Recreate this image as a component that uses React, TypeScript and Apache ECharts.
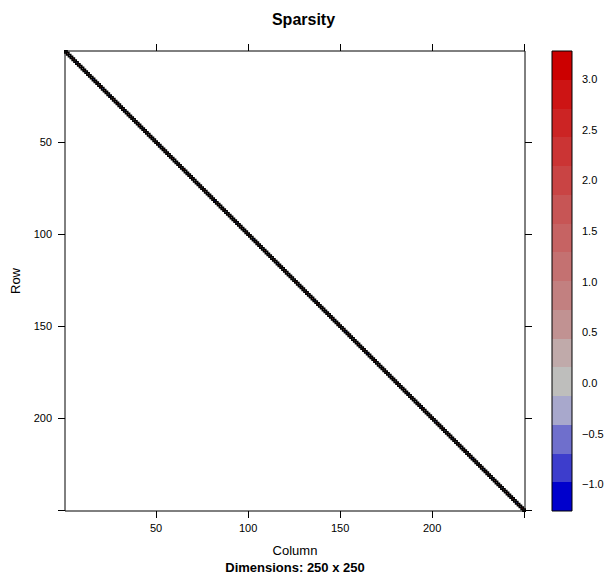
import React, { useEffect, useRef } from "react";
import * as echarts from "echarts";

const N = 250;
const categories = Array.from({ length: N }, (_, i) => String(i + 1));
const axisTickValues = [50, 100, 150, 200, 250];
const axisLabelValues = [50, 100, 150, 200];

// diagonal entries of the 250 x 250 sparse matrix (estimated; hidden under cell borders)
const diagValues = [
  0.42, 1.13, -0.35, 0.88, 2.01, 0.17, -0.62, 1.45, 0.73, 0.29,
  1.92, -0.18, 0.56, 1.27, 0.04, -0.91, 0.67, 1.58, 0.33, 2.44,
  -0.47, 0.95, 1.71, 0.12, -1.265, 0.81, 1.36, 0.48, 2.73, -0.24,
  0.61, 1.05, -0.73, 0.38, 1.84, 0.22, 0.97, -0.11, 1.49, 0.66,
  2.17, 0.09, -0.55, 1.21, 0.77, 0.35, 1.63, -0.38, 0.52, 0.91,
  1.34, -0.86, 0.27, 2.29, 0.59, 1.02, -0.07, 0.84, 1.77, 0.13,
  -0.29, 0.71, 1.18, 0.46, 3.279, 0.25, -0.66, 1.09, 0.58, 1.41,
  0.02, 0.89, -0.44, 1.66, 0.31, 2.05, 0.74, -0.15, 1.23, 0.47,
  0.93, -1.02, 0.64, 1.52, 0.19, 0.82, 2.58, -0.31, 0.41, 1.14,
  0.69, 0.07, 1.87, -0.58, 0.36, 1.29, 0.85, -0.21, 1.61, 0.53,
  2.36, 0.14, -0.79, 0.98, 1.44, 0.26, 0.72, -0.09, 1.96, 0.61,
  -0.41, 1.07, 0.34, 1.69, 0.55, -0.68, 2.12, 0.79, 0.18, 1.32,
  0.87, -0.26, 1.55, 0.43, 0.06, 2.67, 0.63, -0.49, 1.16, 0.92,
  0.28, 1.81, -0.13, 0.75, 1.38, -0.95, 0.51, 2.21, 0.11, 1.04,
  0.68, -0.34, 1.47, 0.24, 0.94, 1.73, -0.57, 0.39, 2.49, 0.83,
  0.15, 1.26, -0.72, 0.57, 1.89, 0.32, -0.05, 1.11, 0.76, 2.03,
  -0.19, 0.49, 1.64, 0.86, -1.13, 0.23, 1.35, 0.62, 2.86, 0.08,
  0.97, -0.39, 1.22, 0.44, 1.78, 0.16, -0.61, 0.89, 1.53, 0.37,
  2.26, 0.71, -0.27, 1.08, 0.54, 1.91, -0.83, 0.3, 1.42, 0.65,
  0.03, 1.59, 0.81, -0.46, 2.39, 0.47, 1.17, -0.12, 0.78, 1.31,
  0.21, -0.69, 1.74, 0.58, 0.96, 2.14, -0.32, 0.4, 1.25, 0.88,
  -0.53, 1.46, 0.27, 0.73, 1.99, -0.16, 0.6, 3.05, 0.12, 1.06,
  0.84, -0.88, 1.37, 0.45, 0.19, 1.68, 0.92, -0.43, 2.31, 0.55,
  1.2, 0.05, -0.6, 1.57, 0.74, 0.33, 2.08, -0.22, 0.99, 0.67,
  1.43, -0.37, 0.8, 1.85, 0.26, -0.77, 1.12, 0.5, 2.62, 0.94,
];

// colour key: 16 levels (bottom to top)
const levelBreaks = [
  -1.265, -0.981, -0.697, -0.413, -0.129, 0.155, 0.439, 0.723, 1.007,
  1.291, 1.575, 1.859, 2.143, 2.427, 2.711, 2.995, 3.279,
];
const levelColors = [
  "#0000CC", "#3D3DCC", "#6F6FCC", "#A8A8CC", "#BEBEBC", "#C0AAAA",
  "#C19292", "#C28080", "#C47171", "#C66363", "#C75555", "#C94444",
  "#CB3434", "#CC2424", "#CD1414", "#CC0000",
];
const keyTickValues = [-1.0, -0.5, 0.0, 0.5, 1.0, 1.5, 2.0, 2.5, 3.0];

const FONT = "'Liberation Sans', Arial, Helvetica, sans-serif";

export default function App() {
  const ref = useRef<HTMLDivElement>(null);

  useEffect(() => {
    const chart = echarts.init(ref.current!, null, { renderer: "svg" });
    const heatData = diagValues.map((v, i) => [i, i, v]);
    const keyData = levelColors.map((_, i) => [levelBreaks[i], levelBreaks[i + 1], i]);
    const isTick = (i: number) => axisTickValues.includes(i + 1);
    const isLabel = (i: number) => axisLabelValues.includes(i + 1);

    const tickStyle = {
      show: true,
      interval: (i: number) => isTick(i),
      alignWithLabel: true,
      length: 7,
      lineStyle: { color: "#000", width: 1 },
    };
    const labelStyle = {
      show: true,
      interval: (i: number) => isLabel(i),
      fontSize: 11,
      color: "#000",
      fontFamily: FONT,
    };

    chart.setOption({
      animation: false,
      textStyle: { fontFamily: FONT },
      title: {
        text: "Sparsity",
        left: "center",
        top: 6,
        textStyle: { fontSize: 16, fontWeight: "bold", color: "#000", fontFamily: FONT },
      },
      grid: [
        {
          left: 65, top: 51, width: 460, height: 460,
          show: true, borderColor: "#000", borderWidth: 1,
          backgroundColor: "transparent", outerBoundsMode: "none", z: 5,
        },
        {
          left: 552, top: 51, width: 20, height: 460,
          show: true, borderColor: "#000", borderWidth: 1,
          backgroundColor: "transparent", outerBoundsMode: "none", z: 5,
        },
      ],
      xAxis: [
        {
          type: "category", data: categories, gridIndex: 0, position: "bottom",
          axisLine: { show: false }, splitLine: { show: false },
          axisTick: tickStyle,
          axisLabel: { ...labelStyle, margin: 11 },
        },
        {
          type: "category", data: categories, gridIndex: 0, position: "top",
          axisLine: { show: false }, splitLine: { show: false },
          axisTick: tickStyle,
          axisLabel: { show: false },
        },
        { type: "value", gridIndex: 1, min: 0, max: 1, show: false },
      ],
      yAxis: [
        {
          type: "category", data: categories, gridIndex: 0, position: "left", inverse: true,
          axisLine: { show: false }, splitLine: { show: false },
          axisTick: tickStyle,
          axisLabel: { ...labelStyle, margin: 13 },
        },
        {
          type: "category", data: categories, gridIndex: 0, position: "right", inverse: true,
          axisLine: { show: false }, splitLine: { show: false },
          axisTick: tickStyle,
          axisLabel: { show: false },
        },
        {
          type: "value", gridIndex: 1, position: "right",
          min: levelBreaks[0], max: levelBreaks[levelBreaks.length - 1],
          axisLine: { show: false }, splitLine: { show: false },
          axisTick: { show: true, customValues: keyTickValues, length: 5, lineStyle: { color: "#000", width: 1 } },
          axisLabel: {
            show: true, customValues: keyTickValues, margin: 10, fontSize: 11, color: "#000",
            fontFamily: FONT,
            formatter: (v: number) => v.toFixed(1).replace("-", "\u2212"),
          },
        },
      ],
      visualMap: [
        {
          type: "piecewise", show: false, seriesIndex: 0, dimension: 2,
          pieces: levelColors.map((c, i) => ({ gte: levelBreaks[i], lte: levelBreaks[i + 1], color: c })),
        },
      ],
      series: [
        {
          type: "heatmap", xAxisIndex: 0, yAxisIndex: 0, data: heatData,
          itemStyle: { borderColor: "#000", borderWidth: 1.5 },
          emphasis: { disabled: true }, z: 2,
        },
        {
          type: "custom", xAxisIndex: 2, yAxisIndex: 2, data: keyData, z: 1, clip: false,
          silent: true,
          renderItem: (_params: any, api: any) => {
            const lo = api.value(0);
            const hi = api.value(1);
            const idx = api.value(2);
            const p1 = api.coord([0, lo]);
            const p2 = api.coord([1, hi]);
            const yTop = Math.round(p2[1]);
            const yBot = Math.round(p1[1]);
            return {
              type: "rect",
              shape: { x: p1[0], y: yTop, width: p2[0] - p1[0], height: yBot - yTop },
              style: { fill: levelColors[idx] },
            };
          },
        },
      ],
      graphic: [
        {
          type: "text", x: 295, y: 550,
          style: { text: "Column", fontSize: 13, fontFamily: FONT, fill: "#000", textAlign: "center", textVerticalAlign: "middle" },
        },
        {
          type: "text", x: 295, y: 567,
          style: { text: "Dimensions: 250 x 250", fontSize: 13, fontWeight: "bold", fontFamily: FONT, fill: "#000", textAlign: "center", textVerticalAlign: "middle" },
        },
        {
          type: "text", x: 15, y: 281, rotation: Math.PI / 2,
          style: { text: "Row", fontSize: 13, fontFamily: FONT, fill: "#000", textAlign: "center", textVerticalAlign: "middle" },
        },
      ],
    });

    return () => chart.dispose();
  }, []);

  return (
    <div
      ref={ref}
      style={{ position: "fixed", left: 0, top: 0, width: 607, height: 576, background: "#fff" }}
    />
  );
}
